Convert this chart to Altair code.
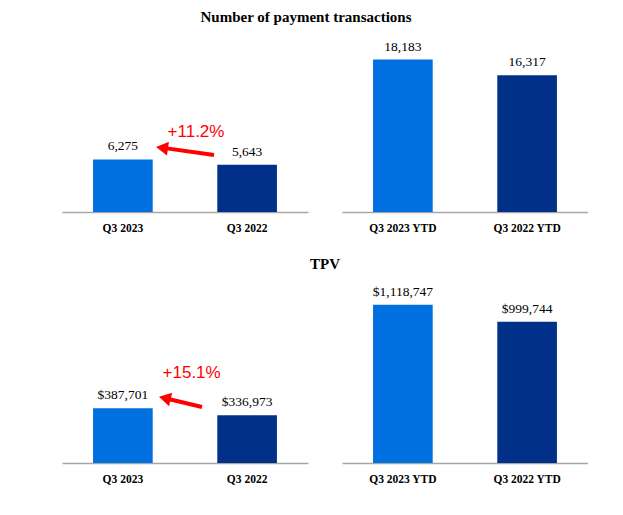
import altair as alt
import pandas as pd

# ---- data ----
q_labels = ["Q3 2023", "Q3 2022"]
ytd_labels = ["Q3 2023 YTD", "Q3 2022 YTD"]
txn_q = [6275, 5643]
txn_ytd = [18183, 16317]
tpv_q = [387701, 336973]
tpv_ytd = [1118747, 999744]
txn_q_text = ["6,275", "5,643"]
txn_ytd_text = ["18,183", "16,317"]
tpv_q_text = ["$387,701", "$336,973"]
tpv_ytd_text = ["$1,118,747", "$999,744"]
bar_colors = ["#0070E0", "#003087"]

# annotations (x in category-index units, y in data units)
ann_txt = ["+11.2%", "+15.1%"]
ann_x = [0.588, 0.553]
ann_y_txn = 9545
ann_y_tpv = 638700
arrow_txn = dict(x=0.732, y=6800, x2=0.34, y2=7620)
arrow_tpv = dict(x=0.636, y=396100, x2=0.36, y2=454000)
head_txn = dict(x=0.332, y=7636)
head_tpv = dict(x=0.354, y=455500)
head_angle = [278, 283]

W, H, GAP = 246, 176, 34
SERIF = "Liberation Serif"


def panel(labels, values, texts, ymax, ann=None):
    df = pd.DataFrame({"cat": labels, "val": values, "txt": texts, "col": bar_colors})
    sc = alt.Scale(paddingInner=0.52, paddingOuter=0.25)
    xs = alt.X("cat:N", sort=labels, title=None, scale=sc,
               axis=alt.Axis(labelAngle=0, ticks=False, domainColor="#a6a6a6",
                             domainWidth=1.5, labelFont=SERIF, labelFontWeight="bold",
                             labelFontSize=11.5, labelColor="#000000", labelPadding=10))
    ys = alt.Y("val:Q", scale=alt.Scale(domain=[0, ymax]), axis=None)
    base = alt.Chart(df)
    bars = base.mark_bar().encode(x=xs, y=ys, color=alt.Color("col:N", scale=None))
    lbl = base.mark_text(baseline="bottom", dy=-6, font=SERIF, fontSize=13.5,
                         color="#000000").encode(x=xs, y=ys, text="txt:N")
    main = alt.layer(bars, lbl)
    if ann is None:
        return main.properties(width=W, height=H)
    txt, tx, ty, arr, head, ang = ann
    xq = alt.Scale(domain=[-0.484, 1.484])
    yq = alt.Scale(domain=[0, ymax])
    adf = pd.DataFrame({"t": [txt], "x": [tx], "y": [ty]})
    t = alt.Chart(adf).mark_text(font="Liberation Sans", fontSize=17,
                                 color="#ff0000", baseline="middle").encode(
        x=alt.X("x:Q", scale=xq, axis=None), y=alt.Y("y:Q", scale=yq, axis=None),
        text="t:N")
    rdf = pd.DataFrame({k: [v] for k, v in arr.items()})
    r = alt.Chart(rdf).mark_rule(color="#ff0000", strokeWidth=4).encode(
        x=alt.X("x:Q", scale=xq, axis=None), y=alt.Y("y:Q", scale=yq, axis=None),
        x2="x2:Q", y2="y2:Q")
    hdf = pd.DataFrame({k: [v] for k, v in head.items()})
    h = alt.Chart(hdf).mark_point(shape="triangle", filled=True, opacity=1,
                                  color="#ff0000", size=190, angle=ang).encode(
        x=alt.X("x:Q", scale=xq, axis=None), y=alt.Y("y:Q", scale=yq, axis=None))
    annl = alt.layer(r, h, t)
    return alt.layer(main, annl).resolve_scale(x="independent").properties(width=W, height=H)


row1 = alt.hconcat(
    panel(q_labels, txn_q, txn_q_text, 21000,
          (ann_txt[0], ann_x[0], ann_y_txn, arrow_txn, head_txn, head_angle[0])),
    panel(ytd_labels, txn_ytd, txn_ytd_text, 21000),
    spacing=GAP,
).properties(title=alt.TitleParams("Number of payment transactions", font=SERIF,
                                   fontSize=15, fontWeight="bold", color="#000000",
                                   anchor="middle", dx=-19, offset=11))

row2 = alt.hconcat(
    panel(q_labels, tpv_q, tpv_q_text, 1245000,
          (ann_txt[1], ann_x[1], ann_y_tpv, arrow_tpv, head_tpv, head_angle[1])),
    panel(ytd_labels, tpv_ytd, tpv_ytd_text, 1245000),
    spacing=GAP,
).properties(title=alt.TitleParams("TPV", font=SERIF, fontSize=15, fontWeight="bold",
                                   color="#000000", anchor="middle", offset=13))

chart = alt.vconcat(row1, row2, spacing=22).properties(
    padding={"left": 62, "top": 10, "right": 0, "bottom": 0},
    background="#ffffff",
).configure_view(stroke=None)

chart.save("out.html", embed_options={"renderer": "svg", "actions": False})
